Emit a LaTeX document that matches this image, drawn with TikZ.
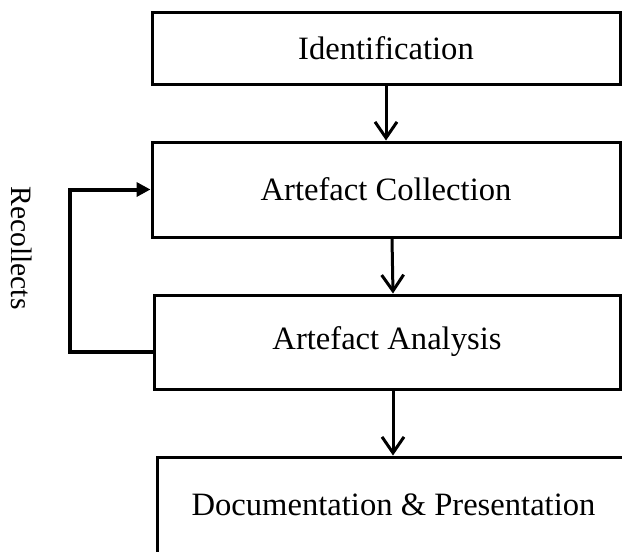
\documentclass[tikz,border=0pt]{standalone}
\usepackage{fontspec}
\setmainfont{Liberation Serif}
\usetikzlibrary{arrows.meta}
\tikzstyle{stage} = [rectangle, minimum width=234pt, minimum height=47.5pt, text centered, draw=black, line width=1.5pt, font=\fontsize{16.3}{18}\selectfont]
\tikzstyle{arrow} = [line width=1.5pt, -{Straight Barb[length=8pt, width=11pt]}]
\tikzstyle{backarrow} = [line width=2pt, -{Triangle[length=7pt, width=7pt]}]

\begin{document}
\begin{tikzpicture}[x=0.5pt, y=-0.5pt, node distance=70.75pt]

    \useasboundingbox (0,0) rectangle (622,552);
    \clip (0,0) rectangle (622,552);

    \node (ident) [stage, minimum height=36pt] at (386,48) {Identification};
    \node (collect) [stage, below of=ident] {Artefact Collection};
    \node (analyse) [stage, below of=collect, yshift=-5.5pt, xshift=0.5pt, minimum width=233pt, minimum height=47pt] {Artefact Analysis};
    \node (docu) [stage, below of=analyse, yshift=-10.75pt, xshift=3.25pt, minimum width=236.5pt, minimum height=48pt] {Documentation \& Presentation};
    \node (recollect) [rotate=-90, font=\fontsize{14.8}{16}\selectfont] at (22,248) {Recollects};

    \draw [arrow] (ident) -- (collect);
    \draw [arrow] ([xshift=3pt]collect.south) -- ([xshift=3pt]analyse.north);
    \draw [arrow] ([xshift=3pt]analyse.south) -- ([xshift=3pt]analyse.south |- docu.north);
    \draw [backarrow] ([yshift=-5pt]analyse.west) -- ++(-83,0) |- (collect.west);

\end{tikzpicture}
\end{document}
